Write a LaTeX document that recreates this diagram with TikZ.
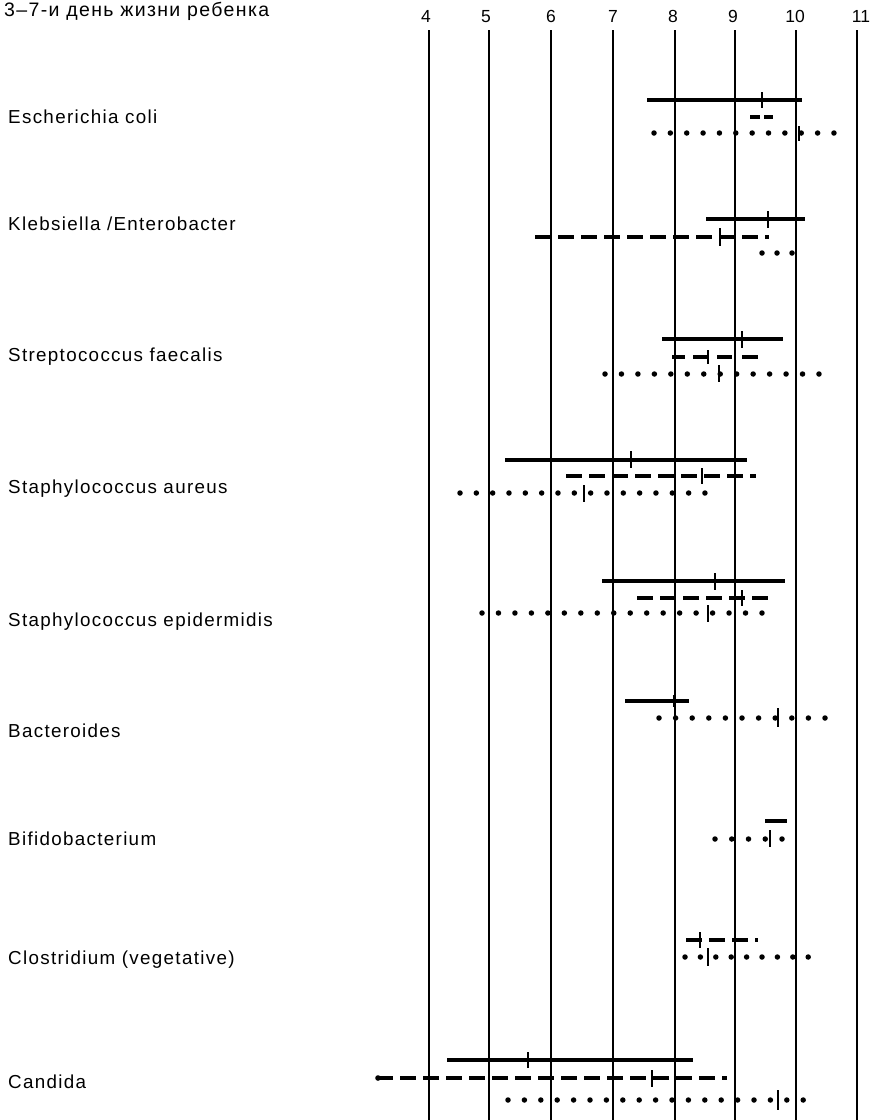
\documentclass[tikz,border=0pt]{standalone}
\usepackage{fontspec}
\setmainfont{Liberation Sans}
\newfontfamily\labfont[LetterSpace=7]{Liberation Sans}
\newfontfamily\numfont{Liberation Sans}
\begin{document}
\begin{tikzpicture}[x=1pt,y=-1pt,
  gridline/.style={line width=1.5pt},
  solidbar/.style={line width=4.2pt},
  dashbar/.style={line width=4pt, dash pattern=on 16pt off 7pt},
  dotbar/.style={line width=5.5pt, line cap=round, dash pattern=on 0pt off #1},
  medtick/.style={line width=1.8pt},
  lab/.style={anchor=west, inner sep=0pt, font=\labfont\fontsize{18.8}{21}\selectfont},
  num/.style={inner sep=0pt, font=\numfont\fontsize{17.5}{19}\selectfont}]
\useasboundingbox (0,0) rectangle (870,1120);

% header
\node[lab, font=\labfont\fontsize{19.5}{22}\selectfont, anchor=north west] (hdr) at (4,1.5) {3–7-и день жизни ребенка};

% grid lines and scale
\foreach \v/\x/\nx in {4/429/426,5/489/486,6/551/551,7/613/613,8/675/673,9/735/733,10/796/795,11/857/861}{
  \draw[gridline] (\x,30) -- (\x,1120);
  \node[num, anchor=base] (n\v) at (\nx,22) {\v};
}

% labels
\node[lab] (l1) at (8,117) {Escherichia coli};
\node[lab] (l2) at (8,224) {Klebsiella /Enterobacter};
\node[lab] (l3) at (8,357) {Streptococcus faecalis};
\node[lab] (l4) at (8,489) {Staphylococcus aureus};
\node[lab] (l5) at (8,622) {Staphylococcus epidermidis};
\node[lab] (l6) at (8,731) {Bacteroides};
\node[lab] (l7) at (8,839) {Bifidobacterium};
\node[lab] (l8) at (8,960) {Clostridium (vegetative)};
\node[lab] (l9) at (8,1082) {Candida};

% Escherichia coli
\draw[solidbar] (647,100) -- (802,100);
\draw[medtick] (762,92) -- (762,108);
\draw[solidbar] (750,117) -- (760,117);
\draw[solidbar] (764,117) -- (773,117);
\draw[dotbar=16.36pt] (654,133) -- (834.5,133);
\draw[medtick] (799,126) -- (799,141);

% Klebsiella / Enterobacter
\draw[solidbar] (706,219) -- (805,219);
\draw[medtick] (768,211) -- (768,228);
\draw[dashbar] (535,237) -- (769,237);
\draw[medtick] (720,228) -- (720,246);
\draw[dotbar=15pt] (762,253) -- (792.5,253);

% Streptococcus faecalis
\draw[solidbar] (662,339) -- (783,339);
\draw[medtick] (742,331) -- (742,348);
\draw[solidbar] (672,357) -- (685,357);
\draw[solidbar] (693,357) -- (708,357);
\draw[solidbar] (717,357) -- (732,357);
\draw[solidbar] (742,357) -- (758,357);
\draw[medtick] (708,350) -- (708,364);
\draw[dotbar=16.46pt] (605,374) -- (819.5,374);
\draw[medtick] (719,365) -- (719,382);

% Staphylococcus aureus
\draw[solidbar] (505,460) -- (747,460);
\draw[medtick] (631,451) -- (631,468);
\draw[dashbar] (566,476) -- (756,476);
\draw[medtick] (702,468) -- (702,484);
\draw[dotbar=16.33pt] (460,493) -- (705.5,493);
\draw[medtick] (584,485) -- (584,502);

% Staphylococcus epidermidis
\draw[solidbar] (602,581) -- (785,581);
\draw[medtick] (715,573) -- (715,590);
\draw[dashbar] (637,598) -- (772,598);
\draw[medtick] (742,590) -- (742,606);
\draw[dotbar=16.47pt] (482,613) -- (762.5,613);
\draw[medtick] (708,605) -- (708,622);

% Bacteroides
\draw[solidbar] (625,701) -- (689,701);
\draw[medtick] (674,695) -- (674,707);
\draw[dotbar=16.6pt] (659,718) -- (825.5,718);
\draw[medtick] (778,708) -- (778,727);

% Bifidobacterium
\draw[solidbar] (765,821) -- (787,821);
\draw[dotbar=16.75pt] (715,839) -- (782.5,839);
\draw[medtick] (770,830) -- (770,847);

% Clostridium (vegetative)
\draw[dashbar] (686,940) -- (758,940);
\draw[medtick] (700,932) -- (700,948);
\draw[dotbar=15.4pt] (685,957) -- (808.5,957);
\draw[medtick] (708,948) -- (708,966);

% Candida
\draw[solidbar] (447,1060) -- (693,1060);
\draw[medtick] (528,1052) -- (528,1068);
\draw[dashbar] (377,1078) -- (727,1078);
\fill (378,1078) circle (2.8pt);
\draw[medtick] (652,1070) -- (652,1087);
\draw[dotbar=16.4pt] (508,1100) -- (803.5,1100);
\draw[medtick] (778,1090) -- (778,1110);
\end{tikzpicture}
\end{document}
